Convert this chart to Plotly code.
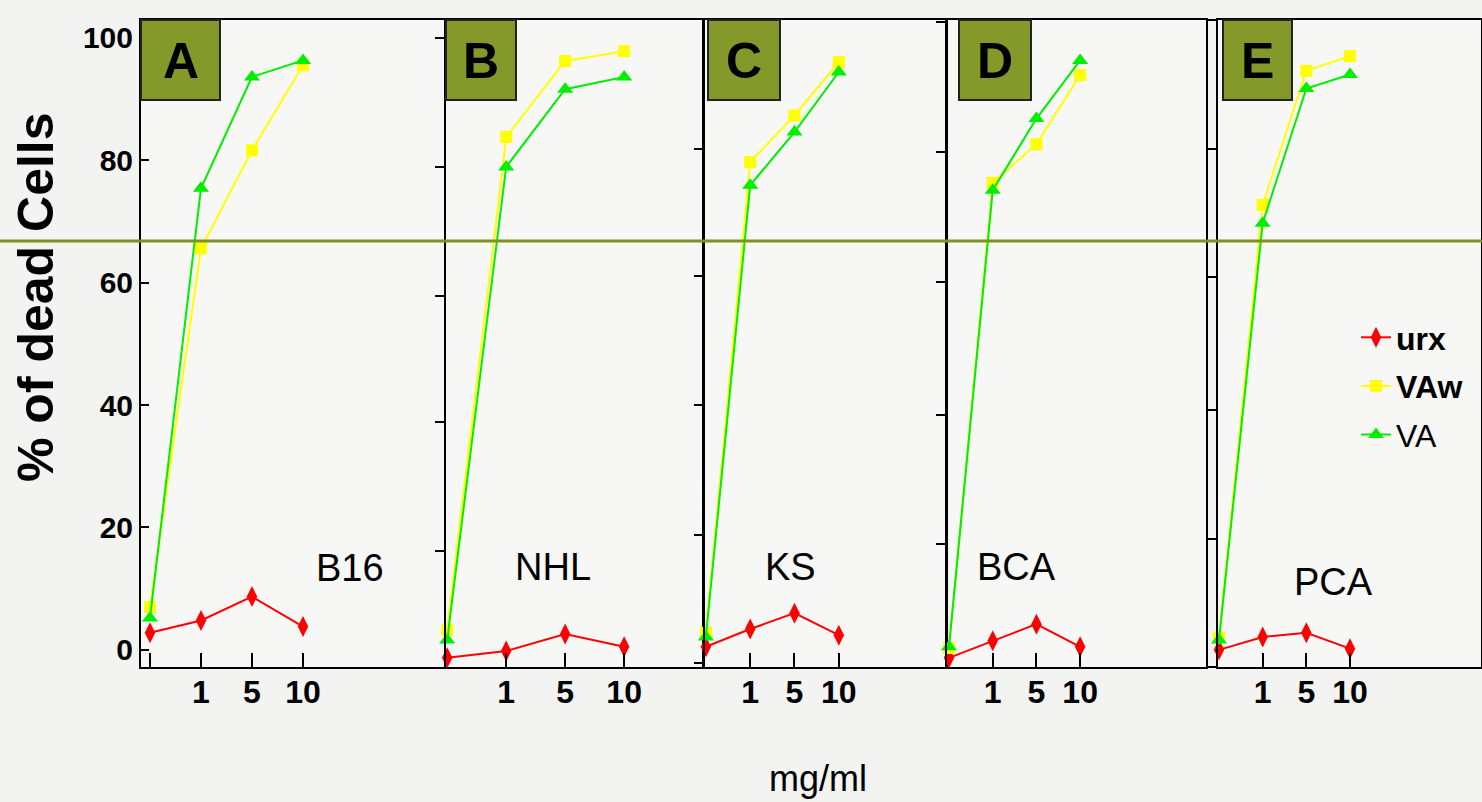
import plotly.graph_objects as go

# ---------------- data ----------------
panels = ["A", "B", "C", "D", "E"]
cell_lines = ["B16", "NHL", "KS", "BCA", "PCA"]
dose_labels = ["0", "1", "5", "10"]          # mg/ml (0 = untreated control, unlabeled)
dose_index = [0, 1, 2, 3]
tick_text = ["1", "5", "10"]

urx = {
    "A": [2.8, 4.8, 8.7, 3.8],
    "B": [-1.3, -0.2, 2.6, 0.5],
    "C": [0.5, 3.4, 6.0, 2.4],
    "D": [-1.3, 1.5, 4.2, 0.5],
    "E": [0.0, 2.1, 2.8, 0.2],
}
vaw = {
    "A": [7.0, 65.6, 81.6, 95.5],
    "B": [3.3, 83.8, 96.2, 97.8],
    "C": [2.8, 79.7, 87.3, 96.0],
    "D": [0.3, 76.3, 82.6, 93.9],
    "E": [2.0, 72.7, 94.6, 97.0],
}
va = {
    "A": [5.2, 75.4, 93.6, 96.3],
    "B": [1.6, 78.9, 91.6, 93.6],
    "C": [2.1, 75.9, 84.6, 94.4],
    "D": [0.5, 75.1, 86.8, 96.3],
    "E": [1.6, 69.7, 91.7, 94.0],
}
threshold = 66.8
y_ticks_main = [0, 20, 40, 60, 80, 100]
# small unlabeled ticks of the pasted panels (each panel had its own scale)
y_ticks_other = {
    "B": [99.9, 78.9, 57.8, 37.2, 16.2],
    "C": [81.8, 61.0, 40.0, 18.8, -2.1],
    "D": [102.5, 81.3, 60.1, 38.4, 17.3],
    "E": [102.9, 81.8, 60.9, 39.2, 18.1, -2.8],
}

# ---------------- layout geometry ----------------
W, H = 1482, 802
px_domains = {"A": (141, 444), "B": (446, 702), "C": (705, 946), "D": (947, 1206), "E": (1218, 1481)}
x_ranges = {"A": [-0.176, 5.765], "B": [-0.02, 4.32], "C": [-0.02, 5.42], "D": [-0.046, 5.88], "E": [-0.023, 6.0]}
y_range = [-2.8, 102.9]
y_dom = [1 - 667 / H, 1 - 20 / H]
FONT = "Liberation Sans, Arial, sans-serif"
OLIVE = "#84992a"

fig = go.Figure()

for i, p in enumerate(panels):
    xa = "x" if i == 0 else f"x{i+1}"
    ya = "y" if i == 0 else f"y{i+1}"
    show = i == 0
    fig.add_trace(go.Scatter(
        x=dose_index, y=urx[p], xaxis=xa, yaxis=ya, name="<b>urx</b>", legendgroup="urx",
        showlegend=show, mode="lines+markers", cliponaxis=False,
        line=dict(color="#ff0000", width=2),
        marker=dict(symbol="diamond-tall", size=15, color="#ff0000")))
    fig.add_trace(go.Scatter(
        x=dose_index, y=vaw[p], xaxis=xa, yaxis=ya, name="<b>VAw</b>", legendgroup="vaw",
        showlegend=show, mode="lines+markers", cliponaxis=False,
        line=dict(color="#ffff00", width=2),
        marker=dict(symbol="square", size=12, color="#ffff00")))
    fig.add_trace(go.Scatter(
        x=dose_index, y=va[p], xaxis=xa, yaxis=ya, name="VA", legendgroup="va",
        showlegend=show, mode="lines+markers", cliponaxis=False,
        line=dict(color="#00ee00", width=2),
        marker=dict(symbol="triangle-up", size=14, color="#00ee00")))

layout = dict(
    width=W, height=H,
    margin=dict(l=0, r=0, t=0, b=0),
    paper_bgcolor="#f3f3f1",
    plot_bgcolor="#f7f7f5",
    font=dict(family=FONT, color="black"),
    showlegend=True,
    legend=dict(x=1356 / W, y=1 - 310 / H, xanchor="left", yanchor="top",
                bgcolor="rgba(0,0,0,0)", font=dict(size=32, family=FONT, color="black"),
                itemwidth=30, tracegroupgap=4),
)

for i, p in enumerate(panels):
    xk = "xaxis" if i == 0 else f"xaxis{i+1}"
    yk = "yaxis" if i == 0 else f"yaxis{i+1}"
    l, r = px_domains[p]
    layout[xk] = dict(
        domain=[l / W, r / W], range=x_ranges[p], anchor="y" if i == 0 else f"y{i+1}",
        tickmode="array",
        tickvals=[0, 1, 2, 3] if i == 0 else [1, 2, 3],
        ticktext=[""] + tick_text if i == 0 else tick_text,
        ticks="inside", ticklen=14, tickwidth=2, tickcolor="black",
        tickfont=dict(size=32, family=FONT, color="black", weight="bold"),
        ticklabelstandoff=-4,
        showline=True, linecolor="black", linewidth=2, mirror=True,
        showgrid=False, zeroline=False, fixedrange=True,
    )
    ydict = dict(
        domain=y_dom, range=y_range, anchor="x" if i == 0 else f"x{i+1}",
        showline=True, linecolor="black", linewidth=2, mirror=True,
        showgrid=False, zeroline=False, fixedrange=True,
        tickwidth=2, tickcolor="black",
    )
    if i == 0:
        ydict.update(tickmode="array", tickvals=y_ticks_main, ticks="inside", ticklen=8,
                     tickfont=dict(size=30, family=FONT, color="black", weight="bold"))
    else:
        ydict.update(tickmode="array", tickvals=y_ticks_other[p], ticktext=[""] * len(y_ticks_other[p]),
                     ticks="outside", ticklen=9)
    layout[yk] = ydict

fig.update_layout(**layout)

# threshold line across the whole figure
fig.add_shape(type="line", xref="paper", yref="y", x0=0, x1=1, y0=threshold, y1=threshold,
              line=dict(color="#7f911f", width=3))

# panel letter boxes
box_px = {"A": (141, 220), "B": (446, 516), "C": (708, 780), "D": (959, 1031), "E": (1223, 1292)}
for p in panels:
    x0, x1 = box_px[p]
    fig.add_shape(type="rect", xref="paper", yref="paper",
                  x0=x0 / W, x1=x1 / W, y0=1 - 100 / H, y1=1 - 20 / H,
                  fillcolor=OLIVE, line=dict(color="#222222", width=2))
    fig.add_annotation(xref="paper", yref="paper", x=(x0 + x1) / 2 / W, y=1 - 61 / H,
                       xanchor="center", yanchor="middle",
                       text=f"<b>{p}</b>", showarrow=False,
                       font=dict(size=50, family=FONT, color="black"))

# cell line labels
label_px = {"B16": (350, 568), "NHL": (553, 567), "KS": (790, 567), "BCA": (1016, 567), "PCA": (1333, 582)}
for name in cell_lines:
    cx, cy = label_px[name]
    fig.add_annotation(xref="paper", yref="paper", x=cx / W, y=1 - cy / H, text=name,
                       xanchor="center", yanchor="middle",
                       showarrow=False, font=dict(size=38, family=FONT, color="black"))

# axis titles
fig.add_annotation(xref="paper", yref="paper", x=36 / W, y=1 - 297 / H, text="<b>% of dead Cells</b>",
                   xanchor="center", yanchor="middle",
                   textangle=-90, showarrow=False, font=dict(size=50, family=FONT, color="black"))
fig.add_annotation(xref="paper", yref="paper", x=818 / W, y=1 - 778 / H, text="mg/ml",
                   xanchor="center", yanchor="middle",
                   showarrow=False, font=dict(size=36, family=FONT, color="black"))

fig.write_html(
    "out.html",
    config={"displayModeBar": False},
    post_script="document.body.style.margin='0px';document.body.style.overflow='hidden';"
                "document.body.style.backgroundColor='#f3f3f1';",
)
